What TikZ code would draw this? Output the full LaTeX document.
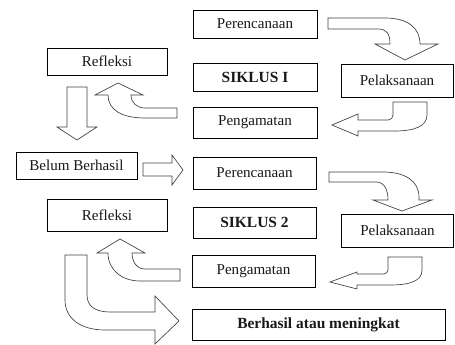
\documentclass[tikz,border=0pt]{standalone}
\usepackage{fontspec}
\setmainfont{Liberation Serif}
\begin{document}
\begin{tikzpicture}[x=0.75pt,y=-0.75pt,
  box/.style={draw=black, line width=0.6pt, fill=white, inner sep=0pt,
    font=\fontsize{11.3}{13}\selectfont, text=black!90},
  bbox/.style={box, font=\fontsize{11.6}{13}\selectfont\bfseries},
  blk/.style={draw=black!75, fill=white, line width=0.5pt, line join=miter}]
\useasboundingbox (0,0) rectangle (455,345);
% boxes (centres in px)
\node[box, minimum width=93pt, minimum height=21pt] (p1) at (255,24) {Perencanaan};
\node[bbox, minimum width=93pt, minimum height=21pt] (s1) at (255,77) {SIKLUS I};
\node[box, minimum width=84pt, minimum height=24.75pt] (l1) at (397,80.5) {Pelaksanaan};
\node[box, minimum width=93pt, minimum height=23.25pt] (g1) at (255,122.5) {Pengamatan};
\node[box, minimum width=90pt, minimum height=20.25pt] (r1) at (107,61.5) {Refleksi};
\node[box, minimum width=90.75pt, minimum height=20.25pt] (b) at (76.5,165.5) {Belum Berhasil};
\node[box, minimum width=92.25pt, minimum height=24pt] (p2) at (254.5,173) {Perencanaan};
\node[bbox, minimum width=92.25pt, minimum height=23.25pt] (s2) at (254.5,222.5) {SIKLUS 2};
\node[box, minimum width=84pt, minimum height=24.75pt] (l2) at (397.5,230.5) {Pelaksanaan};
\node[box, minimum width=92.25pt, minimum height=24pt] (g2) at (253.5,271) {Pengamatan};
\node[box, minimum width=90pt, minimum height=24pt] (r2) at (107,215) {Refleksi};
\node[bbox, minimum width=189.75pt, minimum height=23.25pt] (h) at (318.5,324.5) {Berhasil atau meningkat};
% block arrows
% p1 -> l1
\draw[blk] (328,18) -- (385,18) .. controls (408,18) and (420,28) .. (420,44) -- (438,44) -- (405,60) -- (375,44) -- (390,44) .. controls (390,33) and (386,29) .. (378,29) -- (328,29) -- cycle;
% l1 -> g1
\draw[blk] (393,102) -- (427,102) -- (427,115) .. controls (427,126) and (415,131) .. (395,131) -- (358,131) -- (358,136) -- (332,125) -- (358,114) -- (358,120) -- (388,120) .. controls (391,120) and (393,118) .. (393,115) -- cycle;
% g1 -> r1
\draw[blk] (177,108) -- (145,108) .. controls (137,108) and (131,103) .. (131,95) -- (143,95) -- (118,83) -- (95,95) -- (108,95) .. controls (108,110) and (122,118) .. (145,118) -- (177,118) -- cycle;
% r1 -> b
\draw[blk] (67,87) -- (87,87) -- (87,127) -- (97,127) -- (77,140) -- (57,127) -- (67,127) -- cycle;
% b -> p2
\draw[blk] (143,163) -- (172,163) -- (172,155) -- (183,170) -- (172,185) -- (172,176) -- (143,176) -- cycle;
% p2 -> l2
\draw[blk] (329,172) -- (383,172) .. controls (405,172) and (419,181) .. (419,197) -- (419,200) -- (432,200) -- (402,211) -- (373,200) -- (388,200) .. controls (388,189) and (384,182) .. (376,182) -- (329,182) -- cycle;
% l2 -> g2
\draw[blk] (388,257) -- (422,257) -- (422,270) .. controls (422,281) and (410,285) .. (390,285) -- (357,285) -- (357,289) -- (330,282) -- (357,272) -- (357,274) -- (384,274) .. controls (386,274) and (388,272) .. (388,270) -- cycle;
% g2 -> r2
\draw[blk] (180,269) -- (145,269) .. controls (137,269) and (132,262) .. (132,253) -- (145,253) -- (120,239) -- (97,253) -- (108,253) .. controls (108,270) and (122,281) .. (140,281) -- (180,281) -- cycle;
% r2 -> h
\draw[blk] (65,255) -- (87,255) -- (87,295) .. controls (87,306) and (95,312) .. (110,312) -- (155,312) -- (155,296) -- (179,321) -- (155,344) -- (155,330) -- (105,330) .. controls (80,330) and (65,318) .. (65,300) -- cycle;
\end{tikzpicture}
\end{document}
